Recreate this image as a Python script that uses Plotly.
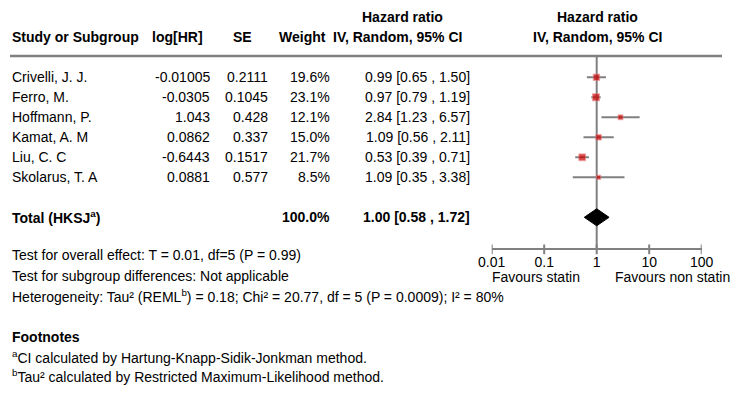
import plotly.graph_objects as go

W, H = 742, 400

# study data
studies = ["Crivelli, J. J.", "Ferro, M.", "Hoffmann, P.", "Kamat, A. M", "Liu, C. C", "Skolarus, T. A"]
log_hr = [-0.01005, -0.0305, 1.043, 0.0862, -0.6443, 0.0881]
se = [0.2111, 0.1045, 0.428, 0.337, 0.1517, 0.577]
weight = [19.6, 23.1, 12.1, 15.0, 21.7, 8.5]
hr = [0.99, 0.97, 2.84, 1.09, 0.53, 1.09]
ci_lo = [0.65, 0.79, 1.23, 0.56, 0.39, 0.35]
ci_hi = [1.50, 1.19, 6.57, 2.11, 0.71, 3.38]

total_label = "Total (HKSJ<sup>a</sup>)"
total_weight = 100.0
total_hr, total_lo, total_hi = 1.00, 0.58, 1.72

x_ticks = [0.01, 0.1, 1, 10, 100]
x_ticktext = ["0.01", "0.1", "1", "10", "100"]

stats_lines = [
    "Test for overall effect: T = 0.01, df=5 (P = 0.99)",
    "Test for subgroup differences: Not applicable",
    "Heterogeneity: Tau² (REML<sup>b</sup>) = 0.18; Chi² = 20.77, df = 5 (P = 0.0009); I² = 80%",
]
footnotes = [
    "<sup>a</sup>CI calculated by Hartung-Knapp-Sidik-Jonkman method.",
    "<sup>b</sup>Tau² calculated by Restricted Maximum-Likelihood method.",
]

FONT = "Liberation Sans, Arial, Helvetica, sans-serif"
GREY = "#808080"
RED = "#cc0000"

# fixed margins; page body adds 8px offset
M = 20
OFF = 8
PW, PH = W - 2 * M, H - 2 * M
X0 = OFF + M
Y0 = OFF + M


def px(x):
    return (x - X0) / PW


def py(y):
    return 1 - (y - Y0) / PH


# rows: study i sits at row i, 20 px apart, first row at y=77 px
ROW0, ROWH = 77.3, 20.0


def row_of(y):
    return (y - ROW0) / ROWH


total_row = len(studies) + 1
axis_row = row_of(249.3)
top_row = row_of(56)

fig = go.Figure()

# vertical line of no effect
fig.add_trace(go.Scatter(x=[1, 1], y=[top_row, axis_row], mode="lines",
                         line=dict(color=GREY, width=2), hoverinfo="skip"))

# whiskers
wx, wy = [], []
for i, (lo, hi) in enumerate(zip(ci_lo, ci_hi)):
    wx += [lo, hi, None]
    wy += [i, i, None]
fig.add_trace(go.Scatter(x=wx, y=wy, mode="lines", line=dict(color=GREY, width=2),
                         hoverinfo="skip"))

# point estimates
fig.add_trace(go.Scatter(
    x=hr, y=list(range(len(studies))), mode="markers",
    marker=dict(symbol="square", color=RED, size=[2.5 + w * 0.2 for w in weight],
                line=dict(color="rgba(230,120,120,0.8)", width=1)),
    hoverinfo="skip"))

# pooled diamond
dh = 8.5 / ROWH
fig.add_trace(go.Scatter(
    x=[total_lo, total_hr, total_hi, total_hr, total_lo],
    y=[total_row, total_row - dh, total_row, total_row + dh, total_row],
    mode="lines", fill="toself", fillcolor="black", line=dict(color="black", width=1),
    hoverinfo="skip"))

# axis ticks crossing the axis line
fig.add_trace(go.Scatter(
    x=x_ticks, y=[axis_row] * len(x_ticks), mode="markers",
    marker=dict(symbol="line-ns", size=7, line=dict(color=GREY, width=2)),
    hoverinfo="skip"))

ann = []


def text(x, y, s, anchor="left", yref="y", bold=False):
    ann.append(dict(x=x, y=y, xref="paper", yref=yref, text=f"<b>{s}</b>" if bold else s,
                    showarrow=False, xanchor=anchor, yanchor="middle",
                    font=dict(family=FONT, size=14, color="black")))


# headers
text(px(402.5), py(16.7), "Hazard ratio", "center", "paper", True)
text(px(597), py(16.7), "Hazard ratio", "center", "paper", True)
text(px(10), py(37.3), "Study or Subgroup", "left", "paper", True)
text(px(177), py(37.3), "log[HR]", "center", "paper", True)
text(px(242), py(37.3), "SE", "center", "paper", True)
text(px(302), py(37.3), "Weight", "center", "paper", True)
text(px(397.5), py(37.3), "IV, Random, 95% CI", "center", "paper", True)
text(px(597.5), py(37.3), "IV, Random, 95% CI", "center", "paper", True)

# table rows
for i, name in enumerate(studies):
    text(px(10), i, name)
    text(px(212), i, str(log_hr[i]), "right")
    text(px(270), i, str(se[i]), "right")
    text(px(332), i, f"{weight[i]:.1f}%", "right")
    text(px(472), i, f"{hr[i]:.2f} [{ci_lo[i]:.2f} , {ci_hi[i]:.2f}]", "right")

text(px(10), total_row, total_label, bold=True)
text(px(332), total_row, f"{total_weight:.1f}%", "right", bold=True)
text(px(472), total_row, f"{total_hr:.2f} [{total_lo:.2f} , {total_hi:.2f}]", "right", bold=True)

# statistics and footnotes
for s, y in zip(stats_lines, [255, 275.5, 295.5]):
    text(px(10), py(y), s, yref="paper")
text(px(10), py(337.3), "Footnotes", yref="paper", bold=True)
for s, y in zip(footnotes, [356.7, 376]):
    text(px(10), py(y), s, yref="paper")

text(px(490), py(277), "Favours statin", "left", "paper")
text(px(732), py(277), "Favours non statin", "right", "paper")

fig.update_layout(
    width=W, height=H, margin=dict(l=M, r=M, t=M, b=M, autoexpand=False),
    paper_bgcolor="white", plot_bgcolor="white", showlegend=False,
    annotations=ann,
    shapes=[dict(type="line", xref="paper", yref="paper", x0=px(10), x1=px(722),
                 y0=py(56), y1=py(56), line=dict(color=GREY, width=2.5))],
    xaxis=dict(type="log", range=[-2, 2], domain=[px(491.7), px(701.7)],
               anchor="free", position=py(249.3), showline=True, linecolor=GREY, linewidth=2,
               showgrid=False, zeroline=False, ticks="", tickvals=x_ticks, ticktext=x_ticktext,
               tickfont=dict(family=FONT, size=14, color="black"), automargin=False),
    yaxis=dict(range=[row_of(OFF + H - M), row_of(Y0)], domain=[0, 1], visible=False),
)

fig.write_html("out.html")
